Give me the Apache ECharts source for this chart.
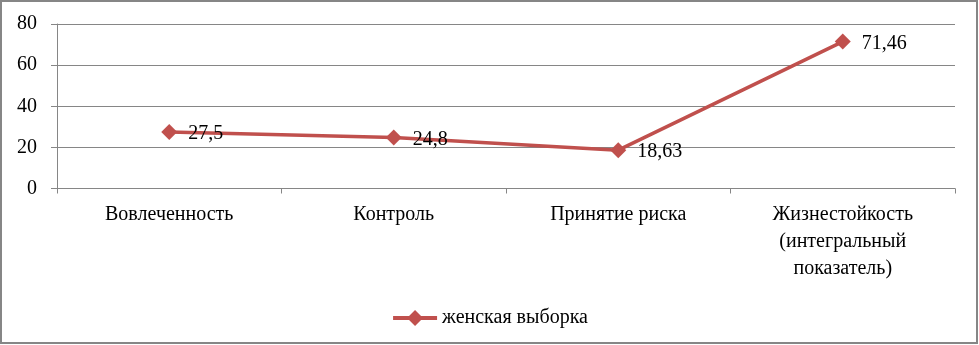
<!DOCTYPE html>
<html><head><meta charset="utf-8">
<script src="https://cdn.jsdelivr.net/npm/echarts@6/dist/echarts.min.js"></script>
<style>html,body{margin:0;padding:0;background:#fff}#c{width:979px;height:345px}</style>
</head><body><div id="c"></div>
<script>
const categories = ['Вовлеченность', 'Контроль', 'Принятие риска', 'Жизнестойкость\n(интегральный\nпоказатель)'];
const seriesName = 'женская выборка';
const values = [27.5, 24.8, 18.63, 71.46];
const yTicks = [0, 20, 40, 60, 80];

const FONT = '"Liberation Serif", "Times New Roman", serif';
const FS = 20;
const chart = echarts.init(document.getElementById('c'), null, {renderer: 'canvas'});
chart.setOption({
  animation: false,
  backgroundColor: '#fff',
  textStyle: {fontFamily: FONT, color: '#000'},
  graphic: [{
    type: 'rect', shape: {x: 1, y: 1, width: 976, height: 342},
    style: {fill: 'none', stroke: '#868686', lineWidth: 2}, silent: true
  }],
  grid: {left: 57, right: 24, top: 24, bottom: 156.5, containLabel: false},
  legend: {
    data: [seriesName], left: 'center', top: 303,
    itemWidth: 44, itemHeight: 20, itemGap: 6,
    lineStyle: {width: 4},
    textStyle: {fontFamily: FONT, fontSize: FS, color: '#000'}
  },
  xAxis: {
    type: 'category', data: categories, boundaryGap: true,
    axisLine: {lineStyle: {color: '#868686', width: 1}},
    axisTick: {show: true, length: 5, interval: 0, lineStyle: {color: '#868686'}},
    axisLabel: {interval: 0, fontFamily: FONT, fontSize: FS, color: '#000', margin: 13, lineHeight: 27}
  },
  yAxis: {
    type: 'value', min: yTicks[0], max: yTicks[yTicks.length - 1], interval: 20,
    axisLine: {show: true, lineStyle: {color: '#868686', width: 1}},
    axisTick: {show: true, length: 6, lineStyle: {color: '#868686'}},
    splitLine: {show: true, lineStyle: {color: '#868686', width: 1}},
    axisLabel: {fontFamily: FONT, fontSize: FS, color: '#000', margin: 20}
  },
  series: [{
    name: seriesName, type: 'line', data: values,
    symbol: 'diamond', symbolSize: 16,
    lineStyle: {color: '#C0504D', width: 3.5},
    itemStyle: {color: '#C0504D'},
    label: {
      show: true, position: 'right', distance: 11, offset: [0, 2],
      fontFamily: FONT, fontSize: FS, color: '#000',
      formatter: p => String(p.value).replace('.', ',')
    }
  }]
});
</script></body></html>
